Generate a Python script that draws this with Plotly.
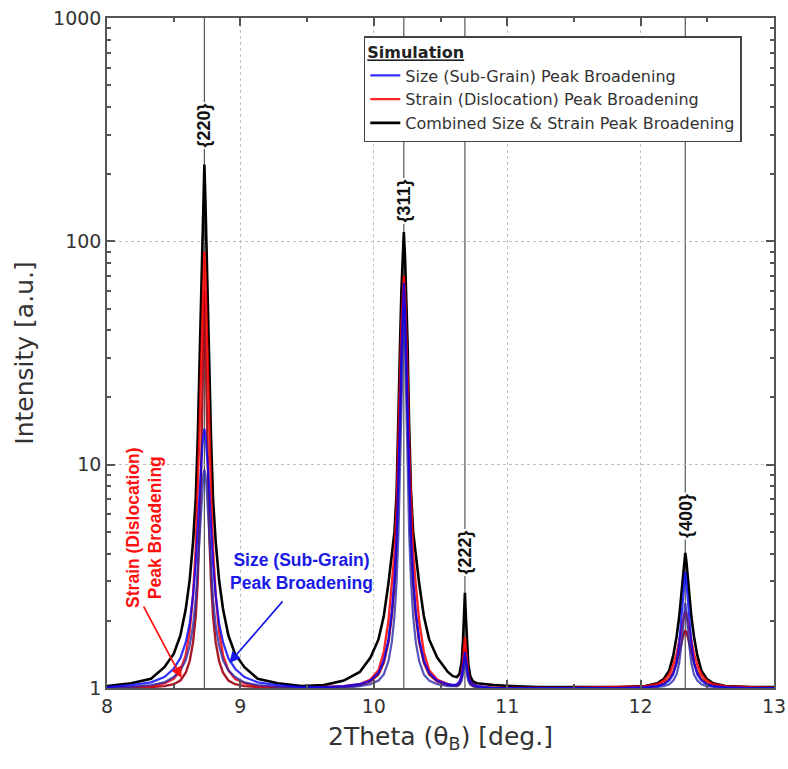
import plotly.graph_objects as go
import math

# ---------------- data ----------------
PEAK_POS = [8.73, 10.225, 10.683, 12.335]
PEAK_LABELS = ["{220}", "{311}", "{222}", "{400}"]
LABEL_BOTTOM = [258.6, 119.2, 3.15, 4.61]

X_220 = [8.00, 8.18, 8.33, 8.43, 8.50, 8.55, 8.59, 8.62, 8.645, 8.665, 8.68, 8.693, 8.705, 8.714, 8.722,
         8.73,
         8.738, 8.746, 8.755, 8.767, 8.78, 8.795, 8.815, 8.84, 8.87, 8.91, 8.96, 9.03, 9.13, 9.28, 9.46]
BLACK_220 = [1.02, 1.05, 1.10, 1.24, 1.42, 1.72, 2.25, 3.05, 4.5, 7.0, 13, 27, 50, 88, 150,
             221,
             150, 88, 50, 27, 13, 7.0, 4.5, 3.05, 2.25, 1.72, 1.42, 1.24, 1.10, 1.05, 1.02]
RED_220 = [1.0, 1.01, 1.02, 1.05, 1.1, 1.2, 1.4, 1.8, 2.6, 4.2, 7.5, 14, 27, 45, 70,
           90,
           70, 45, 27, 14, 7.5, 4.2, 2.6, 1.8, 1.4, 1.2, 1.1, 1.05, 1.02, 1.01, 1.0]
RED2_220 = [1.0, 1.0, 1.01, 1.02, 1.04, 1.08, 1.17, 1.32, 1.6, 2.1, 3.0, 4.8, 9, 18, 35,
            60,
            35, 18, 9, 4.8, 3.0, 2.1, 1.6, 1.32, 1.17, 1.08, 1.04, 1.02, 1.01, 1.0, 1.0]
BLUE_220 = [1.01, 1.03, 1.06, 1.12, 1.22, 1.36, 1.6, 1.95, 2.6, 3.6, 5.2, 7.5, 10, 12, 13.5,
            14.5,
            13.5, 12, 10, 7.5, 5.2, 3.6, 2.6, 1.95, 1.6, 1.36, 1.22, 1.12, 1.06, 1.03, 1.01]
BLUE2_220 = [1.0, 1.01, 1.03, 1.06, 1.12, 1.2, 1.33, 1.55, 1.9, 2.5, 3.4, 4.8, 6.5, 8, 9,
             9.5,
             9, 8, 6.5, 4.8, 3.4, 2.5, 1.9, 1.55, 1.33, 1.2, 1.12, 1.06, 1.03, 1.01, 1.0]

X_311 = [9.625, 9.775, 9.895, 9.975, 10.035, 10.075, 10.11, 10.135, 10.155, 10.171, 10.185, 10.197, 10.207, 10.216,
         10.225,
         10.234, 10.243, 10.253, 10.265, 10.279, 10.295, 10.315, 10.34, 10.375, 10.415, 10.475, 10.555]
BLACK_311 = [1.03, 1.08, 1.18, 1.37, 1.65, 2.1, 2.95, 3.9, 5.0, 7.5, 15, 35, 60, 85,
             110,
             85, 60, 35, 15, 7.5, 5.0, 3.9, 2.95, 2.1, 1.65, 1.37, 1.18]
RED_311 = [1.01, 1.02, 1.04, 1.09, 1.2, 1.45, 2.0, 2.9, 4.0, 6.5, 12, 25, 42, 58,
           70,
           58, 42, 25, 12, 6.5, 4.0, 2.9, 2.0, 1.45, 1.2, 1.09, 1.04]
RED2_311 = [1.0, 1.01, 1.03, 1.07, 1.15, 1.3, 1.6, 2.1, 2.9, 4.3, 7.5, 15, 28, 45,
            60,
            45, 28, 15, 7.5, 4.3, 2.9, 2.1, 1.6, 1.3, 1.15, 1.07, 1.03]
BLUE_311 = [1.01, 1.02, 1.04, 1.08, 1.17, 1.33, 1.65, 2.2, 3.1, 4.8, 8.5, 17, 32, 50,
            65,
            50, 32, 17, 8.5, 4.8, 3.1, 2.2, 1.65, 1.33, 1.17, 1.08, 1.04]
BLUE2_311 = [1.0, 1.0, 1.02, 1.04, 1.08, 1.15, 1.32, 1.6, 2.1, 3.0, 5, 10, 20, 35,
             50,
             35, 20, 10, 5, 3.0, 2.1, 1.6, 1.32, 1.15, 1.08, 1.04, 1.02]

X_222 = [10.593, 10.623, 10.643, 10.658, 10.668, 10.676, 10.683, 10.69, 10.698, 10.708, 10.723, 10.743,
         10.773, 10.823, 10.903, 11.033, 11.233, 11.483]
BLACK_222 = [1.13, 1.12, 1.16, 1.3, 1.6, 2.1, 2.67, 2.1, 1.55, 1.28, 1.13, 1.07, 1.05, 1.04, 1.03, 1.02, 1.01, 1.01]
RED_222 = [1.03, 1.03, 1.06, 1.15, 1.3, 1.5, 1.69, 1.5, 1.3, 1.15, 1.07, 1.04, 1.02, 1.01, 1.0, 1.0, 1.0, 1.0]
RED2_222 = [1.02, 1.02, 1.04, 1.1, 1.22, 1.38, 1.5, 1.38, 1.22, 1.1, 1.04, 1.02, 1.01, 1.0, 1.0, 1.0, 1.0, 1.0]
BLUE_222 = [1.03, 1.04, 1.07, 1.13, 1.24, 1.36, 1.45, 1.36, 1.24, 1.13, 1.07, 1.04, 1.02, 1.01, 1.0, 1.0, 1.0, 1.0]
BLUE2_222 = [1.02, 1.02, 1.04, 1.08, 1.15, 1.24, 1.3, 1.24, 1.15, 1.08, 1.04, 1.02, 1.01, 1.0, 1.0, 1.0, 1.0, 1.0]

X_400 = [11.835, 12.035, 12.125, 12.175, 12.215, 12.245, 12.27, 12.29, 12.305, 12.317, 12.327,
         12.335,
         12.343, 12.353, 12.365, 12.38, 12.4, 12.425, 12.455, 12.495, 12.545, 12.635, 12.835, 13.0]
BLACK_400 = [1.01, 1.02, 1.05, 1.1, 1.2, 1.4, 1.7, 2.1, 2.6, 3.2, 3.7,
             4.03,
             3.7, 3.2, 2.6, 2.1, 1.7, 1.4, 1.2, 1.1, 1.05, 1.02, 1.01, 1.01]
RED_400 = [1.01, 1.02, 1.04, 1.08, 1.15, 1.27, 1.42, 1.6, 1.8, 2.0, 2.15,
           2.2,
           2.15, 2.0, 1.8, 1.6, 1.42, 1.27, 1.15, 1.08, 1.04, 1.02, 1.01, 1.0]
RED2_400 = [1.0, 1.01, 1.02, 1.05, 1.1, 1.18, 1.3, 1.45, 1.6, 1.7, 1.78,
            1.8,
            1.78, 1.7, 1.6, 1.45, 1.3, 1.18, 1.1, 1.05, 1.02, 1.01, 1.0, 1.0]
BLUE_400 = [1.0, 1.01, 1.02, 1.04, 1.08, 1.15, 1.3, 1.6, 2.0, 2.5, 3.0,
            3.3,
            3.0, 2.5, 2.0, 1.6, 1.3, 1.15, 1.08, 1.04, 1.02, 1.01, 1.0, 1.0]
BLUE2_400 = [1.0, 1.0, 1.01, 1.02, 1.04, 1.08, 1.15, 1.3, 1.55, 1.85, 2.2,
             2.4,
             2.2, 1.85, 1.55, 1.3, 1.15, 1.08, 1.04, 1.02, 1.01, 1.0, 1.0, 1.0]

X_TICKS = [8, 9, 10, 11, 12, 13]
Y_TICKS = [1, 10, 100, 1000]
Y_TICK_TEXT = ["1", "10", "100", "1000"]

# ---------------- build ----------------
X = X_220 + X_311 + X_222 + X_400
BLACK = BLACK_220 + BLACK_311 + BLACK_222 + BLACK_400
RED = RED_220 + RED_311 + RED_222 + RED_400
RED2 = RED2_220 + RED2_311 + RED2_222 + RED2_400
BLUE = BLUE_220 + BLUE_311 + BLUE_222 + BLUE_400
BLUE2 = BLUE2_220 + BLUE2_311 + BLUE2_222 + BLUE2_400

fig = go.Figure()
fig.add_trace(go.Scatter(x=X, y=BLACK, mode="lines", name="Combined Size & Strain Peak Broadening",
                         line=dict(color="#000000", width=2.6), legendrank=3))
fig.add_trace(go.Scatter(x=X, y=RED2, mode="lines", showlegend=False,
                         line=dict(color="#a00010", width=2.4), opacity=0.9))
fig.add_trace(go.Scatter(x=X, y=RED, mode="lines", name="Strain (Dislocation) Peak Broadening",
                         line=dict(color="#ff0000", width=2.4), opacity=0.85, legendrank=2))
fig.add_trace(go.Scatter(x=X, y=BLUE2, mode="lines", showlegend=False,
                         line=dict(color="#2a2aa8", width=2.2), opacity=0.8))
fig.add_trace(go.Scatter(x=X, y=BLUE, mode="lines", name="Size (Sub-Grain) Peak Broadening",
                         line=dict(color="#0000ff", width=2.2), opacity=0.8, legendrank=1))

shapes = []
for p in PEAK_POS:
    shapes.append(dict(type="line", xref="x", yref="paper", x0=p, x1=p, y0=0, y1=1,
                       line=dict(color="#555555", width=1.2), layer="below"))

annotations = []
for p, lab, yb in zip(PEAK_POS, PEAK_LABELS, LABEL_BOTTOM):
    annotations.append(dict(x=p, y=math.log10(yb), xref="x", yref="y", text="<b>" + lab + "</b>",
                            textangle=-90, showarrow=False, yanchor="bottom", xanchor="center",
                            font=dict(size=18, color="#111111", family="Arial"),
                            bgcolor="white", borderpad=1))

annotations.append(dict(x=8.276, y=math.log10(5.2), xref="x", yref="y",
                        text="<b>Strain (Dislocation)<br>Peak Broadening</b>", textangle=-90,
                        showarrow=False, font=dict(size=17.5, color="#ff1010", family="Arial")))
annotations.append(dict(x=9.46, y=math.log10(3.31), xref="x", yref="y",
                        text="<b>Size (Sub-Grain)<br>Peak Broadening</b>",
                        showarrow=False, font=dict(size=17.5, color="#1a1ae6", family="Arial")))
annotations.append(dict(x=8.559, y=math.log10(1.109), ax=8.268, ay=math.log10(2.355),
                        xref="x", yref="y", axref="x", ayref="y", text="", showarrow=True,
                        arrowhead=2, arrowsize=1.3, arrowwidth=1.7, arrowcolor="#ff1010"))
annotations.append(dict(x=8.917, y=math.log10(1.295), ax=9.326, ay=math.log10(2.48),
                        xref="x", yref="y", axref="x", ayref="y", text="", showarrow=True,
                        arrowhead=2, arrowsize=1.3, arrowwidth=1.7, arrowcolor="#1a1ae6"))

axis_common = dict(showline=True, linecolor="#555555", linewidth=1.5, mirror="allticks",
                   ticks="inside", ticklen=8, tickwidth=1.5, tickcolor="#555555",
                   showgrid=True, gridcolor="#c0c0c0", griddash="dot", gridwidth=1,
                   zeroline=False, ticklabeloverflow="allow", automargin=False,
                   tickfont=dict(size=19, color="#333333", family="DejaVu Sans"))

fig.update_layout(
    width=788, height=769,
    margin=dict(l=107, r=14, t=18, b=81),
    paper_bgcolor="white", plot_bgcolor="white",
    font=dict(family="DejaVu Sans", color="#333333"),
    shapes=shapes, annotations=annotations,
    legend=dict(x=0.385, y=0.973, xanchor="left", yanchor="top",
                title=dict(text="<b><u>Simulation</u></b>", font=dict(size=16, color="#222222")),
                font=dict(size=16, color="#333333", family="DejaVu Sans"),
                bgcolor="white", bordercolor="#444444", borderwidth=1.5,
                tracegroupgap=0, itemwidth=30),
    xaxis=dict(range=[8, 13], tickmode="array", tickvals=X_TICKS,
               minor=dict(ticks="inside", ticklen=4, dtick=0.5, tickcolor="#555555", showgrid=False),
               title=dict(text="2Theta (θ<sub>B</sub>) [deg.]", font=dict(size=25, color="#333333"), standoff=12),
               **axis_common),
    yaxis=dict(type="log", range=[0, 3], tickmode="array", tickvals=Y_TICKS, ticktext=Y_TICK_TEXT,
               minor=dict(ticks="inside", ticklen=4, dtick="D1", tickcolor="#555555", showgrid=False),
               title=dict(text="Intensity [a.u.]", font=dict(size=25, color="#333333"), standoff=12),
               **axis_common),
)

fig.write_html("out.html")
